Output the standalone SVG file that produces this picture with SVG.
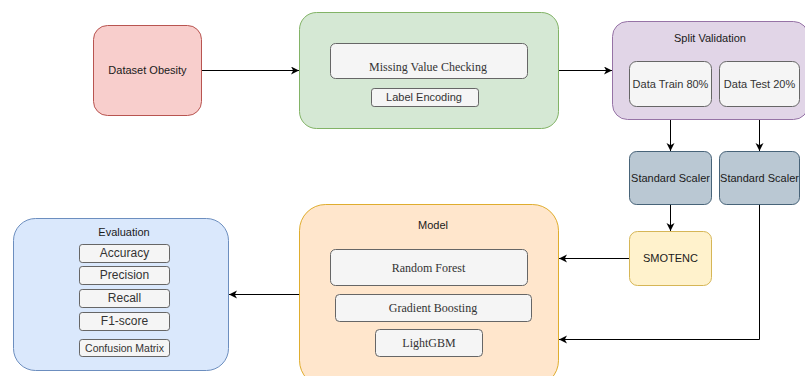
<svg xmlns="http://www.w3.org/2000/svg" width="805" height="376" viewBox="0 0 805 376">
<defs>
<marker id="arr" markerUnits="userSpaceOnUse" markerWidth="9" markerHeight="9" refX="8" refY="4" orient="auto">
<path d="M0,0 L8,4 L0,8 L2.2,4 z" fill="#000"/>
</marker>
<style>
.sans{font-family:"Liberation Sans",Arial,sans-serif;font-size:11px;fill:#1a1a1a;text-anchor:middle}
.serif{font-family:"Liberation Serif","Times New Roman",serif;font-size:12px;fill:#333;text-anchor:middle}
.g{fill:#f5f5f5;stroke:#666;stroke-width:1}
.gt{fill:#333}
.conn{fill:none;stroke:#000;stroke-width:1;marker-end:url(#arr)}
</style>
</defs>
<rect width="805" height="376" fill="#fff"/>

<g id="connectors">
<path class="conn" d="M201.5,70.5 H299"/>
<path class="conn" d="M558.5,70.5 H612"/>
<path class="conn" d="M670.5,106.5 V151"/>
<path class="conn" d="M759.5,106.5 V151"/>
<path class="conn" d="M670.5,204.5 V231"/>
<path class="conn" d="M629.5,258.5 H559"/>
<path class="conn" d="M759.5,204.5 V339.5 H559"/>
<path class="conn" d="M299.5,294.5 H229"/>
</g>

<g id="dataset">
<rect x="93.5" y="25.5" width="108" height="90" rx="14" fill="#f8cecc" stroke="#b85450"/>
<text class="sans" x="147.5" y="74">Dataset Obesity</text>
</g>

<g id="preprocessing">
<rect x="299.5" y="12.5" width="259" height="116" rx="17" fill="#d5e8d4" stroke="#82b366"/>
<g id="missing">
<rect class="g" x="330.5" y="43.5" width="197" height="35" rx="5"/>
<text class="serif" x="428" y="71">Missing Value Checking</text>
</g>
<g id="label-encoding">
<rect class="g" x="371.5" y="88.5" width="107" height="18" rx="2.7"/>
<text class="sans gt" x="424" y="101">Label Encoding</text>
</g>
</g>

<g id="split">
<rect x="612.5" y="21.5" width="196" height="98" rx="15" fill="#e1d5e7" stroke="#9673a6"/>
<text class="sans" x="710" y="42">Split Validation</text>
<g id="train">
<rect class="g" x="629.5" y="61.5" width="82" height="45" rx="7"/>
<text class="sans gt" x="670.5" y="87.5">Data Train 80%</text>
</g>
<g id="test">
<rect class="g" x="719.5" y="61.5" width="80" height="45" rx="7"/>
<text class="sans gt" x="759.5" y="87.5">Data Test 20%</text>
</g>
</g>

<g id="scaler1">
<rect x="629.5" y="151.5" width="82" height="53" rx="7" fill="#bac8d3" stroke="#23445d" stroke-opacity="0.8"/>
<text class="sans" x="670.5" y="181.5">Standard Scaler</text>
</g>
<g id="scaler2">
<rect x="719.5" y="151.5" width="80" height="53" rx="7" fill="#bac8d3" stroke="#23445d" stroke-opacity="0.8"/>
<text class="sans" x="759.5" y="181.5">Standard Scaler</text>
</g>

<g id="smotenc">
<rect x="629.5" y="231.5" width="82" height="54" rx="8" fill="#fff2cc" stroke="#d6b656"/>
<text class="sans" x="670.5" y="262">SMOTENC</text>
</g>

<g id="model">
<rect x="299.5" y="204.5" width="259" height="182" rx="26" fill="#ffe6cc" stroke="#d79b00" stroke-opacity="0.8"/>
<text class="sans" x="433" y="229">Model</text>
<g id="rf">
<rect class="g" x="330.5" y="249.5" width="197" height="36" rx="5"/>
<text class="serif" x="428.5" y="271.5">Random Forest</text>
</g>
<g id="gb">
<rect class="g" x="335.5" y="294.5" width="196" height="27" rx="4"/>
<text class="serif" x="433" y="311.5">Gradient Boosting</text>
</g>
<g id="lgbm">
<rect class="g" x="375.5" y="329.5" width="107" height="27" rx="4"/>
<text class="serif" x="429" y="347">LightGBM</text>
</g>
</g>

<g id="evaluation">
<rect x="13.5" y="218.5" width="215" height="152" rx="22" fill="#dae8fc" stroke="#6c8ebf"/>
<text class="sans" x="124" y="236">Evaluation</text>
<g id="accuracy">
<rect class="g" x="79.5" y="244.5" width="90" height="18" rx="2.7"/>
<text class="sans gt" x="124.5" y="257" style="font-size:12px">Accuracy</text>
</g>
<g id="precision">
<rect class="g" x="79.5" y="266.5" width="90" height="18" rx="2.7"/>
<text class="sans gt" x="124.5" y="279" style="font-size:12px">Precision</text>
</g>
<g id="recall">
<rect class="g" x="79.5" y="289.5" width="90" height="18" rx="2.7"/>
<text class="sans gt" x="124.5" y="302" style="font-size:12px">Recall</text>
</g>
<g id="f1">
<rect class="g" x="79.5" y="312.5" width="90" height="18" rx="2.7"/>
<text class="sans gt" x="124.5" y="325" style="font-size:12px">F1-score</text>
</g>
<g id="confusion">
<rect class="g" x="79.5" y="339.5" width="90" height="17" rx="2.7"/>
<text class="sans gt" x="124.5" y="351.5" style="font-size:10.5px">Confusion Matrix</text>
</g>
</g>
</svg>
